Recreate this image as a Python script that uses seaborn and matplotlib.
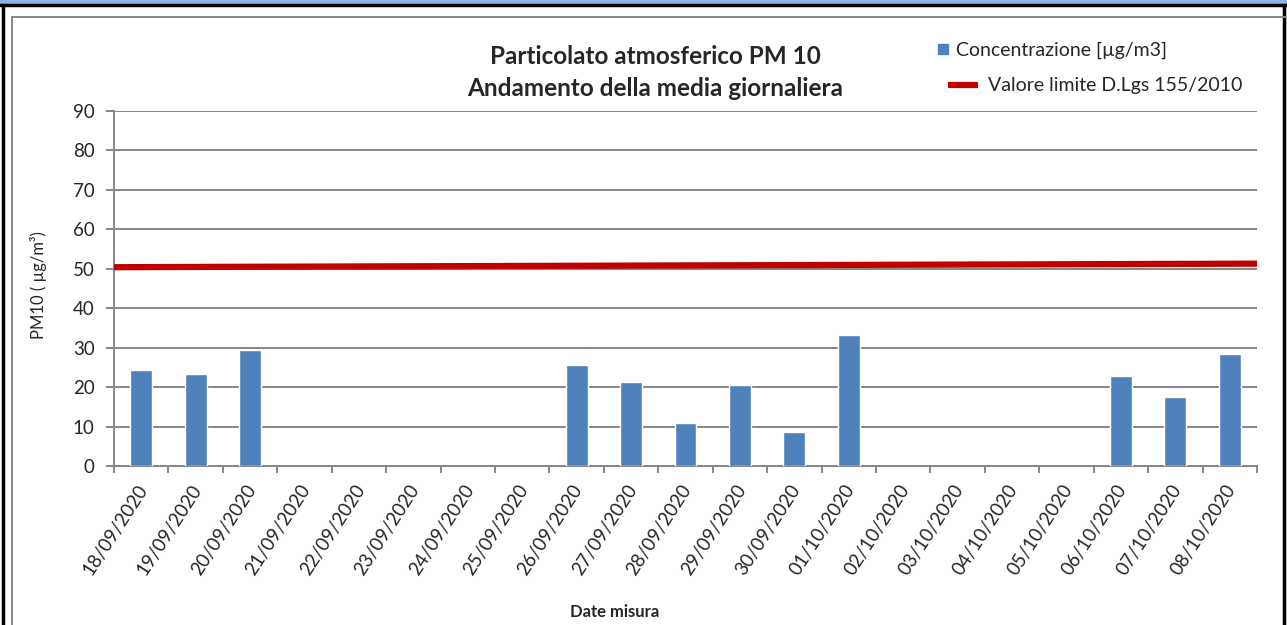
import numpy as np
import matplotlib
matplotlib.use("Agg")
import matplotlib.pyplot as plt
import matplotlib.transforms as mtransforms
import seaborn as sns
import pandas as pd
from matplotlib.patches import Rectangle
from matplotlib.lines import Line2D
from matplotlib.ticker import MultipleLocator, FixedLocator

date = ['18/09/2020', '19/09/2020', '20/09/2020', '21/09/2020', '22/09/2020',
        '23/09/2020', '24/09/2020', '25/09/2020', '26/09/2020', '27/09/2020',
        '28/09/2020', '29/09/2020', '30/09/2020', '01/10/2020', '02/10/2020',
        '03/10/2020', '04/10/2020', '05/10/2020', '06/10/2020', '07/10/2020',
        '08/10/2020']
concentrazione = [24.3, 23.3, 29.3, np.nan, np.nan, np.nan, np.nan, np.nan,
                  25.5, 21.3, 11.0, 20.6, 8.5, 33.3, np.nan, np.nan, np.nan,
                  np.nan, 22.8, 17.4, 28.4]
limite_inizio = 50.4
limite_fine = 51.3

sns.set_style("white")
plt.rcParams['font.family'] = ['Lato', 'DejaVu Sans']

df = pd.DataFrame({'Data': date, 'Concentrazione': concentrazione})

fig = plt.figure(figsize=(12.87, 6.25), dpi=100)
ax = fig.add_axes([114/1287, 1-466/625, (1257-114)/1287, (466-111)/625])

blu = '#4F81BD'
rosso = '#C00000'
grigio = '#868686'

sns.barplot(data=df, x='Data', y='Concentrazione', order=date, color=blu,
            width=0.4, saturation=1, ax=ax, zorder=3)

ax.set_xlim(-0.5, len(date)-0.5)
ax.set_ylim(0, 90)
x0, x1 = ax.get_xlim()
ax.plot([x0, x1], [limite_inizio, limite_fine], color=rosso, lw=4.5,
        solid_capstyle='butt', zorder=4, clip_on=False)

ax.yaxis.set_major_locator(MultipleLocator(10))
ax.yaxis.grid(True, color=grigio, lw=1.4, zorder=0)
ax.set_axisbelow(True)
for s in ['top', 'right']:
    ax.spines[s].set_visible(False)
for s in ['left', 'bottom']:
    ax.spines[s].set_color(grigio)
    ax.spines[s].set_linewidth(1.4)
ax.tick_params(axis='y', length=6, width=1.4, color=grigio, labelsize=13.5,
               left=True, pad=8)
ax.tick_params(axis='x', which='major', length=0, labelsize=13.5, pad=11)
ax.xaxis.set_minor_locator(FixedLocator(np.arange(len(date)+1) - 0.5))
ax.tick_params(axis='x', which='minor', length=5, width=1.4, color=grigio,
               bottom=True)
ax.set_xticks(range(len(date)))
ax.set_xticklabels(date, rotation=57, ha='right', rotation_mode='anchor')
sposta = mtransforms.ScaledTranslation(-5/100, 0, fig.dpi_scale_trans)
for lab in ax.get_xticklabels():
    lab.set_transform(lab.get_transform() + sposta)

ax.set_xlabel('Date misura', fontsize=12, fontweight='bold')
ax.xaxis.set_label_coords(0.438, -0.39)
ax.set_ylabel('PM10 ( µg/m³)', fontsize=12)
ax.yaxis.set_label_coords(-0.059, 0.51)

fig.text(655/1287, 1-56/625, 'Particolato atmosferico PM 10', ha='center',
         va='center', fontsize=17.5, fontweight='bold')
fig.text(655/1287, 1-88/625, 'Andamento della media giornaliera', ha='center',
         va='center', fontsize=17.5, fontweight='bold')

# legenda (due righe con rientri diversi, come nell'originale)
fs = 14
em = fs * 100 / 72
leg1 = fig.legend([Line2D([0], [0], marker='s', ls='none', color=blu, markersize=7.5)],
                  ['Concentrazione [µg/m3]'], loc='center left',
                  bbox_to_anchor=(937/1287, 1-50/625), frameon=False, fontsize=fs,
                  handlelength=12/em, handletextpad=7/em, borderaxespad=0,
                  borderpad=0)
leg2 = fig.legend([Line2D([0], [0], color=rosso, lw=4.5, solid_capstyle='butt')],
                  ['Valore limite D.Lgs 155/2010'], loc='center left',
                  bbox_to_anchor=(948/1287, 1-86/625), frameon=False, fontsize=fs,
                  handlelength=30/em, handletextpad=10/em, borderaxespad=0,
                  borderpad=0)

# cornice
fig.patches.append(Rectangle((0, 1-4/625), 1, 4/625, transform=fig.transFigure,
                             facecolor='#8DB3E2', edgecolor='none', zorder=0))
fig.add_artist(Line2D([0, 1], [1-5/625, 1-5/625], color='black', lw=2.5,
                      transform=fig.transFigure))
fig.add_artist(Line2D([3/1287, 3/1287], [0, 1-5/625], color='black', lw=2.5,
                      transform=fig.transFigure))
fig.add_artist(Line2D([1284/1287, 1284/1287], [0, 1-5/625], color='black', lw=2.5,
                      transform=fig.transFigure))
fig.add_artist(Line2D([12/1287, 12/1287], [0, 1-17/625], color=grigio, lw=1.4,
                      transform=fig.transFigure))
fig.add_artist(Line2D([12/1287, 1], [1-17/625, 1-17/625], color=grigio, lw=1.4,
                      transform=fig.transFigure))

fig.savefig('out.png', dpi=100)
